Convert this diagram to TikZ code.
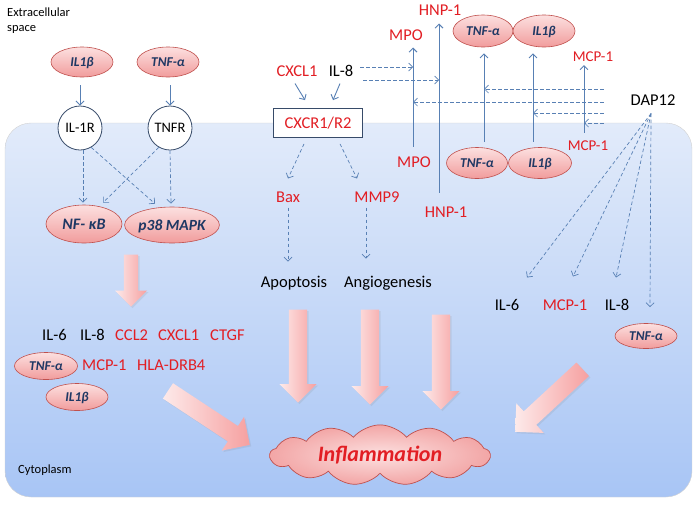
\documentclass[tikz,border=0pt]{standalone}
\usepackage{fontspec}
\setmainfont{Carlito}
\usetikzlibrary{arrows.meta,calc,shapes.geometric,shapes.symbols,shapes.arrows,shadows}
\definecolor{txtred}{RGB}{226,30,36}
\definecolor{lblue}{RGB}{31,56,100}
\definecolor{arrblue}{RGB}{88,128,180}
\definecolor{pinkE}{RGB}{192,80,77}
\definecolor{pinkT}{RGB}{252,224,224}
\definecolor{pinkB}{RGB}{241,156,156}
\definecolor{cellT}{RGB}{226,235,250}
\definecolor{cellB}{RGB}{168,197,245}
\definecolor{arrT}{RGB}{253,234,234}
\definecolor{arrH}{RGB}{246,160,160}
\definecolor{recE}{RGB}{55,75,105}
\tikzset{
  pinkell/.style={ellipse, draw=pinkE, line width=0.6pt, top color=pinkT, bottom color=pinkB,
    inner sep=0pt, text=lblue, font=\bfseries\itshape\fontsize{13.5}{14}\selectfont,
    text height=8.7pt, text depth=0pt},
  recept/.style={circle, draw=recE, fill=white, line width=0.8pt, minimum size=44pt, inner sep=0pt,
    font=\fontsize{14.5}{15}\selectfont, text height=9.3pt, text depth=0pt},
  lab/.style={inner sep=0pt, font=\fontsize{16.5}{18}\selectfont, text height=10.6pt, text depth=0pt},
  redlab/.style={lab, text=txtred},
  smred/.style={inner sep=0pt, text=txtred, font=\fontsize{15}{16}\selectfont, text height=9.7pt, text depth=0pt},
  small/.style={inner sep=0pt, font=\fontsize{12.5}{14}\selectfont},
  sarr/.style={draw=arrblue, line width=0.9pt, -{Straight Barb[length=4pt,width=8pt]}},
  darr/.style={draw=arrblue, line width=0.7pt, dash pattern=on 3.5pt off 2.5pt, -{Straight Barb[length=4pt,width=8pt]}},
  bigarr/.style={single arrow, inner xsep=0pt, draw=none, left color=arrT, right color=arrH,
    single arrow tip angle=90, single arrow head indent=0pt, text height=0pt, text depth=0pt,
    drop shadow={opacity=0.15, shadow xshift=1.5pt, shadow yshift=-1.5pt}}
}
\begin{document}
\begin{tikzpicture}[x=1pt,y=-1pt]
\useasboundingbox (0,0) rectangle (695,504);
\fill[white] (0,0) rectangle (695,504);
% cell
\path[top color=cellT, bottom color=cellB, draw=gray!35, line width=0.4pt, rounded corners=26pt]
  (5,123) rectangle (692,497);

% ---- left pathway
\node[small, anchor=base west] (ext1) at (7,16.7) {Extracellular};
\node[small, anchor=base west] (ext2) at (7,31.7) {space};
\node[small, anchor=base west] (cyto) at (18,473) {Cytoplasm};

\node[pinkell, minimum width=62pt, minimum height=30pt] (il1bA) at (82,62) {IL1β};
\node[pinkell, minimum width=62pt, minimum height=30pt] (tnfA) at (168,62) {TNF-α};
\node[recept] (il1r) at (80,128) {IL-1R};
\node[recept] (tnfr) at (170,128) {TNFR};
\node[pinkell, minimum width=76pt, minimum height=38pt, font=\bfseries\itshape\fontsize{16}{17}\selectfont, text height=10.3pt] (nfkb) at (84,224) {NF- κB};
\node[pinkell, minimum width=74pt, minimum height=36pt, inner xsep=0pt, font=\bfseries\itshape\fontsize{15.5}{17}\selectfont, text height=10pt] (p38) at (172,225) {p38 MAPK};

\draw[sarr, shorten <=8pt] (il1bA.south -| il1r.north) -- (il1r.north);
\draw[sarr, shorten <=8pt] (tnfA.south -| tnfr.north) -- (tnfr.north);
\draw[darr] ($(il1r.south)+(3,0)$) -- ($(nfkb.north)+(-1,-2)$);
\draw[darr] (il1r.-60) -- ($(p38.north)+(-17,-3)$);
\draw[darr] (tnfr.-120) -- ($(nfkb.north)+(19,-2)$);
\draw[darr] (tnfr.south) -- ($(p38.north)+(-1,-3)$);

\node[bigarr, rotate=-90, anchor=tip, minimum height=52pt, inner ysep=7pt, single arrow head extend=9pt] (a1) at (131,307) {};

\node[lab, anchor=west] (l1) at (42,335) {IL-6};
\node[lab, anchor=west] (l2) at (80,335) {IL-8};
\node[redlab, anchor=west] (l3) at (115,335) {CCL2};
\node[redlab, anchor=west] (l4) at (158,335) {CXCL1};
\node[redlab, anchor=west] (l5) at (210,335) {CTGF};
\node[pinkell, minimum width=63pt, minimum height=27pt] (tnfL) at (46,366) {TNF-α};
\node[redlab, anchor=west] (l6) at (82,365) {MCP-1};
\node[redlab, anchor=west] (l7) at (137,365) {HLA-DRB4};
\node[pinkell, minimum width=62pt, minimum height=27pt] (il1bL) at (77,397) {IL1β};

% ---- middle pathway
\node[redlab] (cxcl1) at (297,71) {CXCL1};
\node[lab] (il8a) at (341,71) {IL-8};
\node[redlab, draw=recE, fill=white, line width=0.8pt, minimum width=89pt, minimum height=29pt, text height=10.6pt] (cxr) at (318,123) {CXCR1/R2};
\draw[sarr] ($(cxcl1.south)+(-2,7)$) -- ($(cxr.north)+(-13,-8)$);
\draw[sarr] ($(il8a.south)+(-1,7)$) -- ($(cxr.north)+(15,-8)$);
\node[redlab] (bax) at (288,197) {Bax};
\node[redlab] (mmp9) at (377,197) {MMP9};
\node[lab] (apop) at (294,282) {Apoptosis};
\node[lab] (angio) at (388,282) {Angiogenesis};
\draw[darr] ($(cxr.south)+(-14,6)$) -- ($(bax.north)+(0,-13)$);
\draw[darr] ($(cxr.south)+(22,6)$) -- ($(mmp9.north)+(-20,-13)$);
\draw[darr] ($(bax.south)+(0,5)$) -- ($(bax.south |- apop.north)+(0,-15)$);
\draw[darr] ($(mmp9.south)+(-11,5)$) -- ($(mmp9.south |- angio.north)+(-11,-18)$);

% ---- upper right
\node[redlab] (mpoT) at (406,35) {MPO};
\node[redlab] (mpoB) at (414,162) {MPO};
\node[redlab] (hnpT) at (440,10) {HNP-1};
\node[redlab] (hnpB) at (446,212) {HNP-1};
\node[pinkell, minimum width=60pt, minimum height=32pt] (tnfT) at (483,31) {TNF-α};
\node[pinkell, minimum width=62pt, minimum height=32pt] (ilT) at (544,31) {IL1β};
\node[pinkell, minimum width=61pt, minimum height=31pt] (tnfB) at (477,163) {TNF-α};
\node[pinkell, minimum width=63pt, minimum height=31pt] (ilB) at (540,163) {IL1β};
\node[smred] (mcpT) at (593,57) {MCP-1};
\node[smred] (mcpB) at (588,146) {MCP-1};
\node[lab] (dap) at (653,100) {DAP12};

\coordinate (vMPO) at ($(mpoB.north)+(-1,-10)$);
\coordinate (vHNP) at ($(hnpT.south |- hnpB.north)+(-1,-14)$);
\coordinate (vTNF) at ($(tnfT.south |- tnfB.north)+(1,-5)$);
\coordinate (vIL) at ($(ilB.north)+(-7,-5.5)$);
\coordinate (vMCP) at ($(mcpB.north)+(-4,-8)$);
\draw[sarr] (vMPO) -- ($(vMPO |- mpoT.south)+(0,7)$);
\draw[sarr] (vHNP) -- ($(vHNP |- hnpT.south)+(0,8)$);
\draw[sarr] (vTNF) -- ($(vTNF |- tnfT.south)+(0,6)$);
\draw[sarr] (vIL) -- ($(vIL |- ilT.south)+(0,6)$);
\draw[sarr] (vMCP) -- ($(vMCP |- mcpT.south)+(0,3)$);

\coordinate (h1) at ($(il8a.east)+(7,-4)$);
\coordinate (h2) at ($(il8a.east)+(10,9)$);
\draw[darr] (h1) -- (h1 -| vMPO);
\draw[darr] (h2) -- (h2 -| vHNP);
\coordinate (g1) at ($(dap.west)+(-26.5,-11)$);
\coordinate (g2) at ($(dap.west)+(-26.5,2)$);
\coordinate (g3) at ($(dap.west)+(-26.5,13)$);
\coordinate (g4) at ($(dap.west)+(-26.5,23)$);
\draw[darr] (g1) -- (g1 -| vTNF);
\draw[darr] (g2) -- (g2 -| vMPO);
\draw[darr] (g3) -- (g3 -| vIL);
\draw[darr] (g4) -- (g4 -| vMCP);

% ---- DAP12 targets
\node[lab] (il6R) at (507,305) {IL-6};
\node[redlab] (mcpR) at (565,305) {MCP-1};
\node[lab] (il8R) at (617,305) {IL-8};
\node[pinkell, minimum width=62pt, minimum height=25pt] (tnfR) at (646,336) {TNF-α};
\coordinate (dapo) at ($(dap.south)+(-2,8)$);
\draw[darr] (dapo) -- ($(il6R.north)+(20,-22)$);
\draw[darr] (dapo) -- ($(mcpR.north)+(8,-23)$);
\draw[darr] (dapo) -- ($(il8R.north)+(-1,-22)$);
\draw[darr] (dapo) -- ($(tnfR.north)+(4,-16)$);

% ---- inflammation
\node[cloud, cloud puffs=13, cloud puff arc=100, aspect=4.2, draw=pinkE, line width=0.7pt,
  inner color=pinkT, outer color=pinkB!90, minimum width=220pt, minimum height=54pt, inner sep=0pt,
  text=txtred, font=\bfseries\itshape\fontsize{22}{24}\selectfont] (infl) at (380,455) {Inflammation};

\node[bigarr, rotate=-90, anchor=tip, minimum height=93pt, inner ysep=9pt, single arrow head extend=9.5pt] (a2) at (298,403) {};
\node[bigarr, rotate=-90, anchor=tip, minimum height=95pt, inner ysep=9pt, single arrow head extend=9.5pt] (a3) at (370,405) {};
\node[bigarr, rotate=-90, anchor=tip, minimum height=95pt, inner ysep=9pt, single arrow head extend=9.5pt] (a4) at (441,410) {};
\node[bigarr, rotate=-33.4, anchor=tip, minimum height=98pt, inner ysep=9pt, single arrow head extend=11pt] (a5) at (250,445) {};
\node[bigarr, rotate=222.8, anchor=tip, minimum height=92pt, inner ysep=9pt, single arrow head extend=11pt] (a6) at (515,432) {};
\end{tikzpicture}
\end{document}
